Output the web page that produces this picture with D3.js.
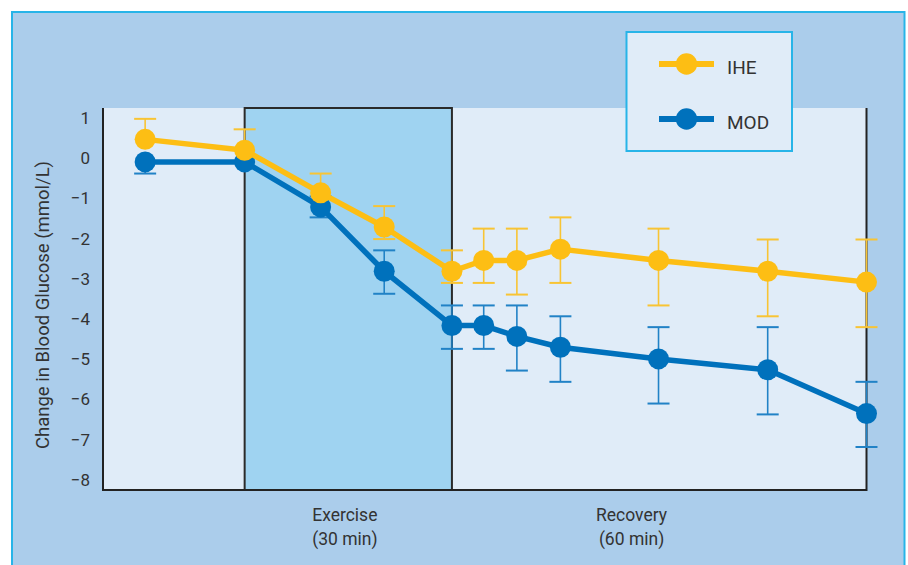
<!DOCTYPE html>
<html>
<head>
<meta charset="utf-8">
<script src="https://cdn.jsdelivr.net/npm/d3@7"></script>
<style>
  html, body { margin: 0; padding: 0; background: #ffffff; }
  svg { display: block; }
  text { font-family: Roboto, "Noto Sans", sans-serif; fill: #333333; }
</style>
</head>
<body>
<svg id="chart" width="908" height="565"></svg>
<script>
// Sampling times (min) relative to the start of exercise
const times = [-14.4, 0, 11, 20.2, 30, 34.6, 39.4, 45.7, 59.9, 75.7, 90];

// Change in blood glucose (mmol/L): mean and error-bar ends
const iheMean = [0.47, 0.20, -0.86, -1.71, -2.81, -2.54, -2.54, -2.26, -2.54, -2.81, -3.08];
const iheHigh = [0.98, 0.72, -0.38, -1.19, -2.29, -1.75, -1.75, -1.47, -1.75, -2.02, -2.02];
const iheLow  = [0.47, 0.20, -0.86, -2.01, -3.10, -3.10, -3.39, -3.10, -3.66, -3.93, -4.20];

const modMean = [-0.09, -0.09, -1.21, -2.81, -4.16, -4.16, -4.43, -4.70, -4.99, -5.26, -6.35];
const modHigh = [-0.09, -0.09, -0.95, -2.29, -3.66, -3.66, -3.66, -3.93, -4.20, -4.20, -5.56];
const modLow  = [-0.38, -0.09, -1.47, -3.37, -4.74, -4.74, -5.28, -5.56, -6.10, -6.37, -7.18];

const seriesNames = ["IHE", "MOD"];
const yTicks = [1, 0, -1, -2, -3, -4, -5, -6, -7, -8];
const yLabel = "Change in Blood Glucose (mmol/L)";

// Exercise bout (min) and the phase captions under the axis
const exerciseStart = 0, exerciseEnd = 30;
const phaseNames = ["Exercise", "Recovery"];
const phaseDurations = ["(30 min)", "(60 min)"];

const svg = d3.select("#chart");
const W = 908, H = 565;
const plot = { left: 103, right: 866.5, top: 108, bottom: 490 };

const x = d3.scaleLinear().domain([-20.5, 90]).range([plot.left, plot.right]);
const y = d3.scaleLinear().domain([-8.25, 1.25]).range([plot.bottom, plot.top]);

const colors = { IHE: "#fdbe14", MOD: "#0071bc" };
const errColors = { IHE: "#f8c434", MOD: "#2182c6" };

// Outer panel
svg.append("rect").attr("x", 12).attr("y", 12).attr("width", 892.5).attr("height", H)
  .attr("fill", "#abcdeb").attr("stroke", "#27b4e8").attr("stroke-width", 2);

// Plot area and exercise band
svg.append("rect").attr("x", plot.left).attr("y", plot.top)
  .attr("width", plot.right - plot.left).attr("height", plot.bottom - plot.top)
  .attr("fill", "#e0ecf8");
svg.append("rect").attr("x", x(exerciseStart)).attr("y", plot.top)
  .attr("width", x(exerciseEnd) - x(exerciseStart)).attr("height", plot.bottom - plot.top)
  .attr("fill", "#9fd3f1").attr("stroke", "#2a2a2a").attr("stroke-width", 2);

// Axis frame: left, bottom, right
const frame = svg.append("g").attr("stroke", "#222222").attr("stroke-width", 2).attr("fill", "none");
frame.append("path").attr("d", `M${plot.left},${plot.top}V${plot.bottom}H${plot.right}V${plot.top}`);

// Y axis labels
const yAxis = d3.axisLeft(y).tickValues(yTicks).tickSize(0).tickPadding(13);
const gy = svg.append("g").attr("transform", `translate(${plot.left},0)`).call(yAxis);
gy.select(".domain").remove();
gy.selectAll("text").style("font-family", "Roboto, sans-serif").style("font-size", "17px")
  .attr("fill", "#333333");

svg.append("text")
  .attr("transform", `translate(49,305) rotate(-90)`)
  .attr("text-anchor", "middle")
  .style("font-size", "18.5px")
  .text(yLabel);

// Phase captions
const phaseX = [x(14.5), x(56)];
phaseNames.forEach((name, i) => {
  const t = svg.append("text").attr("text-anchor", "middle").style("font-size", "17.5px");
  t.append("tspan").attr("x", phaseX[i]).attr("y", 521).text(name);
  t.append("tspan").attr("x", phaseX[i]).attr("y", 545).text(phaseDurations[i]);
});

// Series
const series = [
  { name: "MOD", mean: modMean, hi: modHigh, lo: modLow },
  { name: "IHE", mean: iheMean, hi: iheHigh, lo: iheLow }
];

const line = d3.line().x(d => x(d.t)).y(d => y(d.v));
const capHalf = 11;

series.forEach(s => {
  const pts = times.map((t, i) => ({ t, v: s.mean[i], hi: s.hi[i], lo: s.lo[i] }));
  const g = svg.append("g");

  const eb = g.append("g").attr("stroke", errColors[s.name]).attr("fill", "none");
  pts.forEach(p => {
    if (p.hi > p.v) {
      eb.append("line").attr("x1", x(p.t)).attr("x2", x(p.t)).attr("y1", y(p.v)).attr("y2", y(p.hi)).attr("stroke-width", 1.6);
      eb.append("line").attr("x1", x(p.t) - capHalf).attr("x2", x(p.t) + capHalf).attr("y1", y(p.hi)).attr("y2", y(p.hi)).attr("stroke-width", 2);
    }
    if (p.lo < p.v) {
      eb.append("line").attr("x1", x(p.t)).attr("x2", x(p.t)).attr("y1", y(p.v)).attr("y2", y(p.lo)).attr("stroke-width", 1.6);
      eb.append("line").attr("x1", x(p.t) - capHalf).attr("x2", x(p.t) + capHalf).attr("y1", y(p.lo)).attr("y2", y(p.lo)).attr("stroke-width", 2);
    }
  });

  g.append("path").datum(pts).attr("d", line)
    .attr("fill", "none").attr("stroke", colors[s.name]).attr("stroke-width", 5.5)
    .attr("stroke-linejoin", "round");

  g.selectAll("circle").data(pts).join("circle")
    .attr("cx", d => x(d.t)).attr("cy", d => y(d.v)).attr("r", 10.5)
    .attr("fill", colors[s.name]);
});

// Legend
const legend = svg.append("g");
legend.append("rect").attr("x", 626.5).attr("y", 32).attr("width", 165.5).attr("height", 119)
  .attr("fill", "#e0ecf8").attr("stroke", "#27b4e8").attr("stroke-width", 2);
const legendY = [64, 119];
seriesNames.forEach((name, i) => {
  const gy2 = legendY[i];
  legend.append("line").attr("x1", 659).attr("x2", 714).attr("y1", gy2).attr("y2", gy2)
    .attr("stroke", colors[name]).attr("stroke-width", 6);
  legend.append("circle").attr("cx", 686.5).attr("cy", gy2).attr("r", 10.7).attr("fill", colors[name]);
  legend.append("text").attr("x", 727).attr("y", gy2 + 10).style("font-size", "19px").text(name);
});
</script>
</body>
</html>
